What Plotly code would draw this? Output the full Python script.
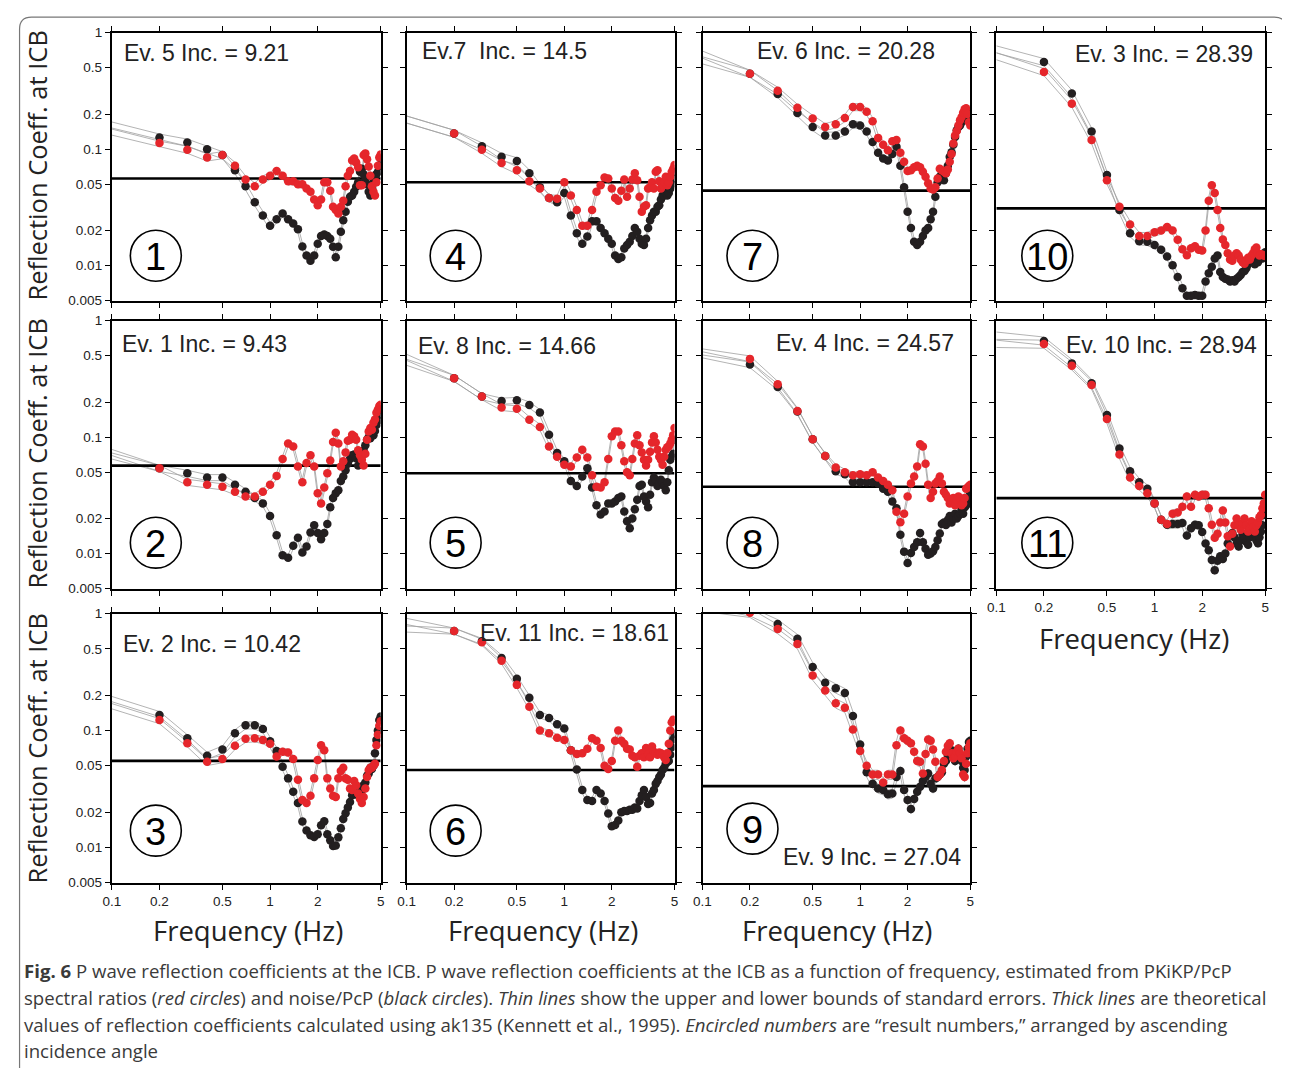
import plotly.graph_objects as go

W, H = 1290, 1068

FREQ = [0.1, 0.2, 0.3, 0.4, 0.5, 0.6, 0.7, 0.8, 0.9, 1.0,
        1.1, 1.2, 1.3, 1.4, 1.5, 1.6, 1.7, 1.8, 1.9, 2.0,
        2.1, 2.2, 2.3, 2.4, 2.5, 2.6, 2.7, 2.8, 2.9, 3.0,
        3.1, 3.2, 3.3, 3.4, 3.5, 3.6, 3.7, 3.8, 3.9, 4.0,
        4.1, 4.2, 4.3, 4.4, 4.5, 4.6, 4.7, 4.8, 4.9, 5.0]

X_TICKS = [0.1, 0.2, 0.5, 1, 2, 5]
X_TICKTEXT = ["0.1", "0.2", "0.5", "1", "2", "5"]
Y_TICKS = [0.005, 0.01, 0.02, 0.05, 0.1, 0.2, 0.5, 1]
Y_TICKTEXT = ["0.005", "0.01", "0.02", "0.05", "0.1", "0.2", "0.5", "1"]

# ---- result 1 (Ev. 5) ----
P1_BLACK = [0.16, 0.126, 0.114, 0.100, 0.089, 0.066, 0.048, 0.035, 0.027, 0.022,
            0.025, 0.028, 0.025, 0.023, 0.0205, 0.0146, 0.0122, 0.011, 0.0122, 0.0154,
            0.018, 0.0185, 0.018, 0.017, 0.0145, 0.0118, 0.0145, 0.0195, 0.0245, 0.029,
            0.0353, 0.039, 0.040, 0.043, 0.0475, 0.052, 0.064, 0.068, 0.061, 0.055,
            0.050, 0.043, 0.040, 0.046, 0.052, 0.058, 0.061, 0.064, 0.072, 0.083]
P1_RED = [0.142, 0.113, 0.099, 0.085, 0.089, 0.072, 0.055, 0.048, 0.055, 0.059,
          0.065, 0.059, 0.053, 0.053, 0.050, 0.050, 0.046, 0.043, 0.037, 0.033,
          0.037, 0.052, 0.052, 0.044, 0.032, 0.030, 0.028, 0.032, 0.036, 0.048,
          0.059, 0.065, 0.080, 0.083, 0.077, 0.070, 0.049, 0.049, 0.089, 0.092,
          0.082, 0.071, 0.059, 0.048, 0.043, 0.040, 0.052, 0.072, 0.085, 0.090]
# ---- result 4 (Ev. 7) ----
P4_BLACK = [0.18, 0.136, 0.106, 0.086, 0.079, 0.062, 0.047, 0.038, 0.035, 0.042,
            0.027, 0.019, 0.0154, 0.0178, 0.024, 0.024, 0.021, 0.019, 0.017, 0.0154,
            0.0122, 0.0114, 0.0118, 0.014, 0.015, 0.016, 0.018, 0.021, 0.0195, 0.017,
            0.0154, 0.015, 0.017, 0.021, 0.0245, 0.027, 0.029, 0.029, 0.032, 0.033,
            0.037, 0.040, 0.040, 0.042, 0.040, 0.042, 0.046, 0.050, 0.056, 0.064]
P4_RED = [0.18, 0.136, 0.099, 0.076, 0.066, 0.053, 0.046, 0.038, 0.0375, 0.052,
          0.040, 0.030, 0.022, 0.022, 0.030, 0.043, 0.049, 0.057, 0.056, 0.046,
          0.038, 0.036, 0.044, 0.055, 0.039, 0.046, 0.055, 0.062, 0.054, 0.039,
          0.029, 0.032, 0.033, 0.046, 0.047, 0.052, 0.046, 0.064, 0.066, 0.053,
          0.046, 0.049, 0.052, 0.058, 0.049, 0.052, 0.058, 0.064, 0.068, 0.073]
# ---- result 7 (Ev. 6) ----
P7_BLACK = [0.58, 0.445, 0.298, 0.204, 0.155, 0.131, 0.131, 0.142, 0.164, 0.160,
            0.142, 0.115, 0.093, 0.083, 0.080, 0.091, 0.105, 0.072, 0.047, 0.029,
            0.021, 0.016, 0.015, 0.016, 0.018, 0.020, 0.021, 0.025, 0.029, 0.039,
            0.052, 0.058, 0.064, 0.054, 0.062, 0.072, 0.086, 0.094, 0.109, 0.127,
            0.145, 0.155, 0.160, 0.170, 0.180, 0.200, 0.195, 0.200, 0.195, 0.200]
P7_RED = [0.65, 0.445, 0.318, 0.227, 0.183, 0.155, 0.164, 0.185, 0.230, 0.230,
          0.210, 0.174, 0.125, 0.109, 0.098, 0.117, 0.120, 0.093, 0.078, 0.065,
          0.066, 0.070, 0.072, 0.070, 0.064, 0.058, 0.051, 0.046, 0.045, 0.047,
          0.056, 0.068, 0.066, 0.064, 0.062, 0.067, 0.078, 0.091, 0.112, 0.131,
          0.143, 0.160, 0.177, 0.189, 0.205, 0.220, 0.225, 0.200, 0.170, 0.160]
# ---- result 10 (Ev. 3) ----
P10_BLACK = [0.72, 0.56, 0.30, 0.142, 0.060, 0.030, 0.019, 0.0162, 0.016, 0.015,
             0.0137, 0.012, 0.0101, 0.0080, 0.0064, 0.0055, 0.0055, 0.0056, 0.0055, 0.0055,
             0.0073, 0.0086, 0.0098, 0.0115, 0.0122, 0.0088, 0.0080, 0.0077, 0.0076, 0.0073,
             0.0075, 0.0073, 0.0077, 0.0080, 0.0083, 0.0088, 0.0090, 0.0095, 0.0103, 0.0115,
             0.0108, 0.0115, 0.0103, 0.0111, 0.0107, 0.0115, 0.0119, 0.0115, 0.0122, 0.013]
P10_RED = [0.63, 0.46, 0.246, 0.12, 0.054, 0.032, 0.0226, 0.018, 0.018, 0.0193,
           0.020, 0.0215, 0.020, 0.0167, 0.0138, 0.0123, 0.0141, 0.0147, 0.0137, 0.0135,
           0.020, 0.036, 0.049, 0.042, 0.030, 0.021, 0.0168, 0.015, 0.0128, 0.0113,
           0.0110, 0.0122, 0.0128, 0.0122, 0.0113, 0.0107, 0.0104, 0.0110, 0.0117, 0.0113,
           0.0122, 0.0128, 0.0138, 0.0143, 0.0128, 0.0122, 0.0125, 0.0124, 0.0122, 0.0121]
# ---- result 2 (Ev. 1) ----
P2_BLACK = [0.074, 0.054, 0.049, 0.045, 0.045, 0.039, 0.034, 0.030, 0.027, 0.021,
            0.0144, 0.0097, 0.0092, 0.0117, 0.0137, 0.0102, 0.0115, 0.0152, 0.0175, 0.015,
            0.0133, 0.015, 0.018, 0.025, 0.030, 0.033, 0.035, 0.042, 0.046, 0.052,
            0.059, 0.065, 0.070, 0.071, 0.066, 0.057, 0.064, 0.070, 0.077, 0.085,
            0.095, 0.100, 0.098, 0.110, 0.104, 0.113, 0.127, 0.140, 0.156, 0.174]
P2_RED = [0.069, 0.054, 0.041, 0.039, 0.0375, 0.034, 0.031, 0.031, 0.034, 0.039,
          0.0465, 0.065, 0.088, 0.083, 0.056, 0.041, 0.060, 0.070, 0.056, 0.033,
          0.027, 0.037, 0.049, 0.063, 0.091, 0.109, 0.088, 0.056, 0.062, 0.074,
          0.093, 0.095, 0.105, 0.102, 0.095, 0.077, 0.070, 0.064, 0.057, 0.072,
          0.095, 0.112, 0.120, 0.116, 0.133, 0.142, 0.162, 0.173, 0.185, 0.190]
# ---- result 5 (Ev. 8) ----
P5_BLACK = [0.485, 0.32, 0.223, 0.204, 0.207, 0.189, 0.163, 0.105, 0.073, 0.062,
            0.042, 0.038, 0.046, 0.054, 0.037, 0.026, 0.0217, 0.023, 0.027, 0.027,
            0.028, 0.030, 0.031, 0.023, 0.019, 0.0165, 0.020, 0.024, 0.029, 0.038,
            0.039, 0.031, 0.028, 0.025, 0.032, 0.041, 0.045, 0.043, 0.038, 0.040,
            0.043, 0.041, 0.038, 0.035, 0.041, 0.052, 0.064, 0.068, 0.072, 0.095]
P5_RED = [0.44, 0.32, 0.223, 0.18, 0.175, 0.141, 0.122, 0.083, 0.068, 0.058,
          0.056, 0.067, 0.078, 0.067, 0.047, 0.0375, 0.037, 0.041, 0.065, 0.102,
          0.112, 0.112, 0.085, 0.062, 0.050, 0.047, 0.065, 0.088, 0.104, 0.085,
          0.074, 0.064, 0.057, 0.064, 0.075, 0.090, 0.102, 0.090, 0.078, 0.068,
          0.064, 0.058, 0.068, 0.078, 0.082, 0.083, 0.088, 0.095, 0.104, 0.120]
# ---- result 8 (Ev. 4) ----
P8_BLACK = [0.51, 0.42, 0.27, 0.166, 0.096, 0.069, 0.051, 0.048, 0.041, 0.041,
            0.041, 0.041, 0.040, 0.036, 0.034, 0.028, 0.0245, 0.0145, 0.0104, 0.0083,
            0.0101, 0.0114, 0.0125, 0.015, 0.0125, 0.011, 0.0098, 0.010, 0.0105, 0.0114,
            0.013, 0.0149, 0.018, 0.0185, 0.0176, 0.0195, 0.021, 0.0185, 0.020, 0.022,
            0.020, 0.021, 0.022, 0.024, 0.022, 0.025, 0.026, 0.027, 0.030, 0.033]
P8_RED = [0.54, 0.47, 0.284, 0.168, 0.096, 0.069, 0.055, 0.050, 0.047, 0.048,
          0.047, 0.050, 0.045, 0.042, 0.039, 0.035, 0.0229, 0.0186, 0.022, 0.031,
          0.040, 0.046, 0.056, 0.087, 0.083, 0.059, 0.039, 0.030, 0.034, 0.040,
          0.042, 0.046, 0.040, 0.034, 0.032, 0.030, 0.027, 0.028, 0.030, 0.026,
          0.029, 0.031, 0.030, 0.026, 0.027, 0.030, 0.036, 0.037, 0.038, 0.039]
# ---- result 11 (Ev. 10) ----
P11_BLACK = [0.74, 0.67, 0.43, 0.29, 0.155, 0.080, 0.051, 0.041, 0.036, 0.027,
             0.0195, 0.0177, 0.018, 0.018, 0.0183, 0.0143, 0.0165, 0.0177, 0.0175, 0.0153,
             0.0122, 0.0107, 0.0088, 0.0072, 0.0087, 0.0095, 0.0090, 0.010, 0.0122, 0.0143,
             0.0150, 0.0138, 0.0122, 0.0115, 0.013, 0.0147, 0.0138, 0.0126, 0.0119, 0.0138,
             0.0150, 0.0160, 0.0147, 0.013, 0.0123, 0.0138, 0.0155, 0.0175, 0.0215, 0.025]
P11_RED = [0.64, 0.63, 0.41, 0.28, 0.143, 0.071, 0.045, 0.038, 0.033, 0.027,
           0.0195, 0.018, 0.022, 0.0225, 0.0253, 0.031, 0.0253, 0.032, 0.031, 0.032,
           0.032, 0.0245, 0.0177, 0.0137, 0.0148, 0.0185, 0.0235, 0.0185, 0.0141, 0.0115,
           0.0148, 0.0175, 0.020, 0.0175, 0.0160, 0.0182, 0.020, 0.0175, 0.0155, 0.0165,
           0.019, 0.0168, 0.0155, 0.0175, 0.0185, 0.0205, 0.0215, 0.0245, 0.027, 0.032]
# ---- result 3 (Ev. 2) ----
P3_BLACK = [0.183, 0.136, 0.086, 0.061, 0.069, 0.095, 0.111, 0.111, 0.103, 0.081,
            0.067, 0.049, 0.039, 0.030, 0.024, 0.0167, 0.014, 0.0127, 0.0123, 0.013,
            0.0155, 0.0168, 0.013, 0.0115, 0.0103, 0.0104, 0.0122, 0.0146, 0.0175, 0.0196,
            0.022, 0.0245, 0.028, 0.029, 0.029, 0.028, 0.029, 0.031, 0.034, 0.036,
            0.041, 0.043, 0.048, 0.047, 0.050, 0.064, 0.083, 0.100, 0.123, 0.132]
P3_RED = [0.165, 0.123, 0.078, 0.054, 0.057, 0.074, 0.085, 0.086, 0.083, 0.077,
          0.060, 0.066, 0.065, 0.057, 0.038, 0.0255, 0.024, 0.0277, 0.039, 0.056,
          0.075, 0.068, 0.039, 0.032, 0.0277, 0.027, 0.039, 0.045, 0.048, 0.039,
          0.038, 0.032, 0.031, 0.037, 0.034, 0.029, 0.026, 0.024, 0.027, 0.032,
          0.040, 0.046, 0.048, 0.048, 0.050, 0.052, 0.075, 0.092, 0.110, 0.120]
# ---- result 6 (Ev. 11) ----
P6_BLACK = [0.86, 0.71, 0.58, 0.417, 0.277, 0.191, 0.136, 0.128, 0.113, 0.104,
            0.068, 0.0465, 0.031, 0.0255, 0.025, 0.031, 0.029, 0.025, 0.0195, 0.0152,
            0.0156, 0.017, 0.020, 0.0205, 0.0205, 0.021, 0.021, 0.022, 0.0215, 0.025,
            0.028, 0.031, 0.027, 0.0235, 0.024, 0.029, 0.031, 0.035, 0.037, 0.040,
            0.042, 0.046, 0.048, 0.052, 0.054, 0.055, 0.062, 0.072, 0.084, 0.094]
P6_RED = [0.74, 0.71, 0.57, 0.395, 0.246, 0.160, 0.100, 0.095, 0.087, 0.083,
          0.068, 0.063, 0.064, 0.070, 0.086, 0.082, 0.071, 0.050, 0.047, 0.055,
          0.082, 0.100, 0.082, 0.077, 0.070, 0.069, 0.061, 0.059, 0.049, 0.061,
          0.064, 0.059, 0.071, 0.063, 0.059, 0.073, 0.066, 0.064, 0.062, 0.065,
          0.064, 0.062, 0.059, 0.056, 0.064, 0.077, 0.100, 0.118, 0.124, 0.122]
# ---- result 9 (Ev. 9) ----
P9_BLACK = [1.25, 1.05, 0.815, 0.61, 0.35, 0.257, 0.23, 0.21, 0.133, 0.076,
            0.044, 0.035, 0.032, 0.031, 0.0285, 0.029, 0.040, 0.045, 0.031, 0.0255,
            0.0213, 0.026, 0.030, 0.033, 0.037, 0.040, 0.043, 0.035, 0.032, 0.039,
            0.040, 0.042, 0.044, 0.052, 0.055, 0.062, 0.066, 0.068, 0.062, 0.055,
            0.062, 0.070, 0.062, 0.055, 0.048, 0.046, 0.060, 0.070, 0.080, 0.082]
P9_RED = [1.15, 1.02, 0.74, 0.55, 0.296, 0.22, 0.171, 0.157, 0.102, 0.067,
          0.050, 0.042, 0.042, 0.036, 0.042, 0.042, 0.075, 0.100, 0.086, 0.082,
          0.078, 0.066, 0.055, 0.054, 0.043, 0.063, 0.084, 0.082, 0.069, 0.054,
          0.040, 0.042, 0.046, 0.055, 0.066, 0.074, 0.078, 0.064, 0.058, 0.060,
          0.066, 0.070, 0.064, 0.058, 0.042, 0.040, 0.052, 0.064, 0.072, 0.078]

# theoretical ak135 values (thick lines)
THEORY = {1: 0.056, 4: 0.052, 7: 0.044, 10: 0.031,
          2: 0.057, 5: 0.049, 8: 0.0375, 11: 0.030,
          3: 0.055, 6: 0.046, 9: 0.0335}
# relative standard error (thin bound lines)
REL_ERR = {1: 0.07, 4: 0.07, 7: 0.07, 10: 0.07,
           2: 0.06, 5: 0.06, 8: 0.06, 11: 0.08,
           3: 0.07, 6: 0.06, 9: 0.09}
LABELS = {1: "Ev. 5 Inc. = 9.21", 4: "Ev.7  Inc. = 14.5", 7: "Ev. 6 Inc. = 20.28",
          10: "Ev. 3 Inc. = 28.39", 2: "Ev. 1 Inc. = 9.43", 5: "Ev. 8 Inc. = 14.66",
          8: "Ev. 4 Inc. = 24.57", 11: "Ev. 10 Inc. = 28.94", 3: "Ev. 2 Inc. = 10.42",
          6: "Ev. 11 Inc. = 18.61", 9: "Ev. 9 Inc. = 27.04"}
SERIES = {1: (P1_RED, P1_BLACK), 4: (P4_RED, P4_BLACK), 7: (P7_RED, P7_BLACK),
          10: (P10_RED, P10_BLACK), 2: (P2_RED, P2_BLACK), 5: (P5_RED, P5_BLACK),
          8: (P8_RED, P8_BLACK), 11: (P11_RED, P11_BLACK), 3: (P3_RED, P3_BLACK),
          6: (P6_RED, P6_BLACK), 9: (P9_RED, P9_BLACK)}

# ---------------- layout geometry (target screenshot pixels) ----------------
COLS = [(112, 381), (407, 675), (703, 971), (997, 1266)]
ROWS = [(32, 300), (320, 588), (613, 882)]
GRID = {1: (0, 0), 4: (0, 1), 7: (0, 2), 10: (0, 3),
        2: (1, 0), 5: (1, 1), 8: (1, 2), 11: (1, 3),
        3: (2, 0), 6: (2, 1), 9: (2, 2)}
LABEL_POS = {1: (122, 52), 4: (420, 50), 7: (756, 50), 10: (1074, 53),
             2: (120, 343), 5: (416, 345), 8: (775, 342), 11: (1065, 344),
             3: (121, 643), 6: (478, 632), 9: (782, 856)}
CIRCLE_POS = {1: (156, 255), 4: (456, 255), 7: (753, 255), 10: (1048, 255),
              2: (156, 542), 5: (456, 542), 8: (753, 542), 11: (1048, 542),
              3: (156, 830), 6: (456, 830), 9: (753, 828)}

RED = "#e5262b"
BLACK = "#231f20"
GRAY = "#a0a0a0"
FONT_PANEL = "Liberation Sans, Arial, sans-serif"
FONT_TITLE = "Open Sans, Liberation Sans, sans-serif"

# the page is photographed with a small offset / scale; compensate
SX, OX = 0.9905, 17.1
SY, OY = 0.986, 14.3


def px(x):
    return ((x - OX) / SX) / W


def py(y):
    return 1 - ((y - OY) / SY) / H


fig = go.Figure()
layout = dict(width=W, height=H, margin=dict(l=0, r=0, t=0, b=0),
              paper_bgcolor="white", plot_bgcolor="white", showlegend=False)
annotations = []
shapes = []

for k, num in enumerate([1, 4, 7, 10, 2, 5, 8, 11, 3, 6, 9], start=1):
    r, c = GRID[num]
    x0, x1 = COLS[c]
    y0, y1 = ROWS[r]
    xa = "x" if k == 1 else f"x{k}"
    ya = "y" if k == 1 else f"y{k}"
    bottom = (r == 2) or (c == 3 and r == 1)
    left = (c == 0)
    layout[f"xaxis{'' if k == 1 else k}"] = dict(
        domain=[px(x0), px(x1)], anchor=ya, type="log",
        range=[-1, 0.69897], tickvals=X_TICKS, ticktext=X_TICKTEXT,
        showticklabels=bottom, ticks="outside", ticklen=5, tickwidth=1,
        tickcolor="black", showline=True, linewidth=2, linecolor="black",
        mirror="allticks", showgrid=False, zeroline=False,
        tickfont=dict(family=FONT_PANEL, size=13.5, color="#222"))
    layout[f"yaxis{'' if k == 1 else k}"] = dict(
        domain=[py(y1), py(y0)], anchor=xa, type="log",
        range=[-2.30103, 0], tickvals=Y_TICKS, ticktext=Y_TICKTEXT,
        showticklabels=left, ticks="outside", ticklen=5, tickwidth=1,
        tickcolor="black", showline=True, linewidth=2, linecolor="black",
        mirror="allticks", showgrid=False, zeroline=False,
        tickfont=dict(family=FONT_PANEL, size=13.5, color="#222"))

    red, black = SERIES[num]
    e = REL_ERR[num]
    for vals in (black, red):
        for fac in (1 + e, 1 - e):
            fig.add_trace(go.Scatter(
                x=FREQ, y=[v * fac for v in vals], mode="lines",
                line=dict(color=GRAY, width=0.8), xaxis=xa, yaxis=ya,
                hoverinfo="skip"))
    fig.add_trace(go.Scatter(
        x=[FREQ[0], FREQ[-1]], y=[THEORY[num], THEORY[num]], mode="lines",
        line=dict(color="black", width=2.7), xaxis=xa, yaxis=ya))
    fig.add_trace(go.Scatter(
        x=FREQ[1:], y=black[1:], mode="markers",
        marker=dict(color=BLACK, size=8.5), xaxis=xa, yaxis=ya))
    fig.add_trace(go.Scatter(
        x=FREQ[1:], y=red[1:], mode="markers",
        marker=dict(color=RED, size=8.5), xaxis=xa, yaxis=ya))

    lx, ly = LABEL_POS[num]
    annotations.append(dict(x=px(lx), y=py(ly), xref="paper", yref="paper",
                            text=LABELS[num], showarrow=False, xanchor="left",
                            yanchor="middle",
                            font=dict(family=FONT_PANEL, size=23, color="#222")))
    cx, cy = CIRCLE_POS[num]
    rad = 25.5
    shapes.append(dict(type="circle", xref="paper", yref="paper",
                       x0=px(cx - rad), x1=px(cx + rad), y0=py(cy + rad), y1=py(cy - rad),
                       line=dict(color="black", width=1.6), fillcolor="rgba(0,0,0,0)"))
    annotations.append(dict(x=px(cx), y=py(cy + 1), xref="paper", yref="paper",
                            text=str(num), showarrow=False, xanchor="center",
                            yanchor="middle",
                            font=dict(family=FONT_PANEL, size=38, color="black")))

# axis titles
for yc in (165, 453, 748):
    annotations.append(dict(x=px(37), y=py(yc), xref="paper", yref="paper",
                            text="Reflection Coeff. at ICB", textangle=-90,
                            showarrow=False, xanchor="center", yanchor="middle",
                            font=dict(family=FONT_TITLE, size=25.5, color="#222")))
for xc, yc in ((248, 930), (543, 930), (838, 930), (1135, 638)):
    annotations.append(dict(x=px(xc), y=py(yc), xref="paper", yref="paper",
                            text="Frequency (Hz)", showarrow=False,
                            xanchor="center", yanchor="middle",
                            font=dict(family=FONT_TITLE, size=27.5, color="#222")))

# caption
CAPTION = [
    "<b>Fig. 6</b> P wave reflection coefficients at the ICB. P wave reflection coefficients at the ICB as a function of frequency, estimated from PKiKP/PcP",
    "spectral ratios (<i>red circles</i>) and noise/PcP (<i>black circles</i>). <i>Thin lines</i> show the upper and lower bounds of standard errors. <i>Thick lines</i> are theoretical",
    "values of reflection coefficients calculated using ak135 (Kennett et al., 1995). <i>Encircled numbers</i> are \u201cresult numbers,\u201d arranged by ascending",
    "incidence angle",
]
for i, line in enumerate(CAPTION):
    annotations.append(dict(x=px(22), y=py(970 + 26.7 * i), xref="paper", yref="paper",
                            text=line, showarrow=False, xanchor="left", yanchor="middle",
                            font=dict(family=FONT_TITLE, size=18.6, color="#3a3a3a")))

# outer rounded frame (as close to the top-left corner as the page allows)
fx0, fy0, fx1, fy1 = 0.002, 0.998, px(1287), -0.01
rx, ry = 12 / W, 12 / H
shapes.append(dict(type="path", xref="paper", yref="paper",
                   path=f"M {fx0},{fy1} L {fx0},{fy0 - ry} Q {fx0},{fy0} {fx0 + rx},{fy0} "
                        f"L {fx1 - rx},{fy0} Q {fx1},{fy0} {fx1},{fy0 - ry} L {fx1},{fy1}",
                   line=dict(color="#777", width=1.2)))

layout["annotations"] = annotations
layout["shapes"] = shapes
fig.update_layout(**layout)
fig.write_html("out.html")
